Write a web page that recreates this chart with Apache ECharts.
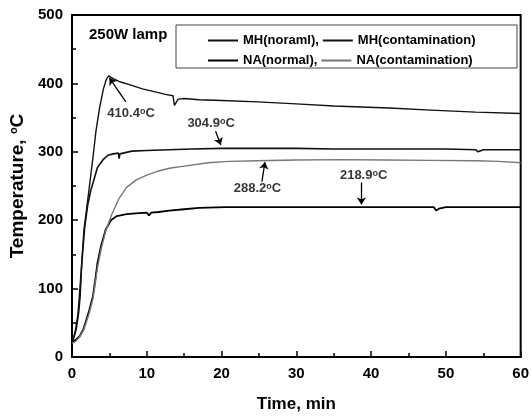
<!DOCTYPE html>
<html>
<head>
<meta charset="utf-8">
<script src="https://cdn.jsdelivr.net/npm/echarts@6/dist/echarts.min.js"></script>
<style>
  html, body { margin: 0; padding: 0; background: #fff; }
  #main { width: 532px; height: 418px; }
</style>
</head>
<body>
<div id="main"></div>
<script>
// MH(contamination) - the curve peaking at 410.4
var timeA = [0, 0.3, 0.6, 0.9, 1.1, 1.3, 1.6, 1.9, 2.2, 2.5, 2.8, 3.2, 3.7, 4.2, 4.6, 4.9, 5.5, 6.5, 8, 9.4, 11, 12.5, 13.5, 13.7, 13.9, 14.2, 15, 17, 20, 24.8, 30, 35, 42.4, 48, 54, 60];
var tempA = [22, 30, 42, 65, 89, 137, 186, 212, 238, 265, 291, 330, 365, 392, 406, 411, 407, 402, 397, 392, 388, 384, 382, 368, 366, 377, 378, 376, 375, 373, 370, 367, 364, 361, 358, 356];
// MH(noraml)
var timeB = [0, 0.4, 0.8, 1.0, 1.2, 1.4, 1.7, 2.1, 2.5, 2.8, 3.4, 4.2, 4.8, 5.5, 6.2, 6.3, 6.4, 6.6, 8, 10, 13, 16, 20, 25, 30, 35, 40, 45, 50, 54, 54.3, 55, 60];
var tempB = [22, 35, 62, 90, 120, 150, 190, 222, 243, 254, 277, 289, 295, 297, 298, 290, 297, 299, 301, 302, 303, 304, 305, 305, 305, 304, 304, 304, 304, 303, 300, 303, 303];
// NA(normal)
var timeD = [0, 0.5, 1, 1.5, 1.8, 2.3, 2.8, 3.1, 3.4, 3.9, 4.5, 5.2, 6, 7.3, 8.5, 10, 10.3, 10.6, 11.6, 13, 15, 17, 20.5, 25, 30, 35, 40, 45, 48.4, 48.7, 49.1, 50, 55, 60];
var tempD = [22, 25, 30, 40, 50, 68, 89, 112, 137, 163, 186, 200, 206, 209, 210, 211, 207, 211, 212, 214, 216, 218, 219, 219, 219, 219, 219, 219, 219, 214, 217, 219, 219, 219];
// NA(contamination)
var timeC = [0, 0.5, 1, 1.5, 1.8, 2.3, 2.8, 3.1, 3.4, 3.9, 4.5, 5.3, 6.3, 7.3, 8.6, 10, 11.6, 13, 15, 18.2, 21, 24.8, 30, 36, 42, 48, 54, 57, 60];
var tempC = [20, 23, 29, 38, 47, 64, 85, 107, 130, 158, 184, 208, 232, 248, 259, 266, 272, 276, 279, 284, 286, 287, 288, 288.5, 288, 287.5, 287, 286, 284];

// annotations: label text, label position, arrow start / end
var noteText = ['410.4', '304.9', '288.2', '218.9'];
var noteAt = [[7.9, 356], [18.6, 341.5], [24.8, 246], [39.0, 265]];
var arrowFrom = [[7.2, 373], [19.2, 330], [25.4, 256.5], [38.7, 255]];
var arrowTo = [[5.0, 408], [19.9, 310], [25.8, 285], [38.7, 223]];

var FONT = 'Liberation Sans, Arial, sans-serif';

function pairs(t, v) {
    var list = [];
    for (var i = 0; i < t.length; i++) list.push([t[i], v[i]]);
    return list;
}

var myChart = echarts.init(document.getElementById('main'));
var option = {
    animation: false,
    backgroundColor: '#fff',
    title: {
        text: '250W lamp',
        left: 84, top: 22,
        textStyle: { fontFamily: FONT, fontSize: 15, fontWeight: 'bold', color: '#000' }
    },
    legend: [{
        left: 208, top: 34, padding: 0,
        itemWidth: 30, itemHeight: 2, itemGap: 4,
        icon: 'rect', selectedMode: false,
        data: ['MH(noraml)', 'MH(contamination)'],
        formatter: function (name) { return name === 'MH(noraml)' ? name + ',' : name; },
        textStyle: { fontFamily: FONT, fontSize: 13, fontWeight: 'bold', color: '#000' }
    }, {
        left: 208, top: 54, padding: 0,
        itemWidth: 30, itemHeight: 2, itemGap: 4,
        icon: 'rect', selectedMode: false,
        data: ['NA(normal)', 'NA(contamination)'],
        formatter: function (name) { return name === 'NA(normal)' ? name + ',' : name; },
        textStyle: { fontFamily: FONT, fontSize: 13, fontWeight: 'bold', color: '#000' }
    }],
    graphic: [{
        type: 'rect',
        shape: { x: 176, y: 25, width: 341, height: 43 },
        style: { fill: 'none', stroke: '#444', lineWidth: 1 },
        silent: true
    }],
    grid: {
        left: 72, right: 6, top: 15, bottom: 56,
        show: true, borderColor: '#000', borderWidth: 2
    },
    xAxis: {
        type: 'value', min: 0, max: 60, interval: 10,
        name: 'Time, min', nameLocation: 'middle', nameGap: 39,
        nameTextStyle: { fontFamily: FONT, fontSize: 17, fontWeight: 'bold', color: '#000' },
        axisLine: { lineStyle: { color: '#000', width: 2 } },
        axisTick: { inside: true, length: 6, lineStyle: { color: '#000', width: 1.5 } },
        minorTick: { show: true, splitNumber: 2, length: 4, lineStyle: { color: '#000', width: 1.5 } },
        splitLine: { show: false },
        axisLabel: { margin: 9, fontFamily: FONT, fontSize: 15, fontWeight: 'bold', color: '#000' }
    },
    yAxis: {
        type: 'value', min: 0, max: 500, interval: 100,
        name: 'Temperature, {s|o}C', nameLocation: 'middle', nameGap: 44, nameRotate: 90,
        nameTextStyle: {
            fontFamily: FONT, fontSize: 19, fontWeight: 'bold', color: '#000',
            rich: { s: { fontFamily: FONT, fontSize: 11, fontWeight: 'bold', color: '#000', verticalAlign: 'top' } }
        },
        axisLine: { lineStyle: { color: '#000', width: 2 } },
        axisTick: { inside: true, length: 6, lineStyle: { color: '#000', width: 1.5 } },
        minorTick: { show: true, splitNumber: 2, length: 4, lineStyle: { color: '#000', width: 1.5 } },
        splitLine: { show: false },
        axisLabel: { margin: 9, fontFamily: FONT, fontSize: 15, fontWeight: 'bold', color: '#000' }
    },
    series: [{
        name: 'MH(noraml)', type: 'line', showSymbol: false, symbol: 'none',
        color: '#111', lineStyle: { width: 1.6 },
        data: pairs(timeB, tempB)
    }, {
        name: 'MH(contamination)', type: 'line', showSymbol: false, symbol: 'none',
        color: '#111', lineStyle: { width: 1.4 },
        data: pairs(timeA, tempA)
    }, {
        name: 'NA(normal)', type: 'line', showSymbol: false, symbol: 'none',
        color: '#000', lineStyle: { width: 1.8 },
        data: pairs(timeD, tempD)
    }, {
        name: 'NA(contamination)', type: 'line', showSymbol: false, symbol: 'none',
        color: '#777', lineStyle: { width: 1.4 },
        data: pairs(timeC, tempC)
    }, {
        name: 'notes', type: 'scatter', symbolSize: 0, silent: true,
        data: noteAt.map(function (p, i) { return { value: p, text: noteText[i] }; }),
        label: {
            show: true, position: 'inside',
            formatter: function (p) { return p.data.text + '{s|o}C'; },
            fontFamily: FONT, fontSize: 13, fontWeight: 'bold', color: '#000',
            rich: { s: { fontFamily: FONT, fontSize: 9, fontWeight: 'bold', color: '#000', verticalAlign: 'top' } }
        },
        markLine: {
            silent: true, animation: false,
            symbol: ['none', 'arrow'], symbolSize: 7,
            label: { show: false },
            lineStyle: { color: '#000', width: 1.3, type: 'solid' },
            data: arrowFrom.map(function (p, i) { return [{ coord: p }, { coord: arrowTo[i] }]; })
        }
    }]
};
myChart.setOption(option);
</script>
</body>
</html>
